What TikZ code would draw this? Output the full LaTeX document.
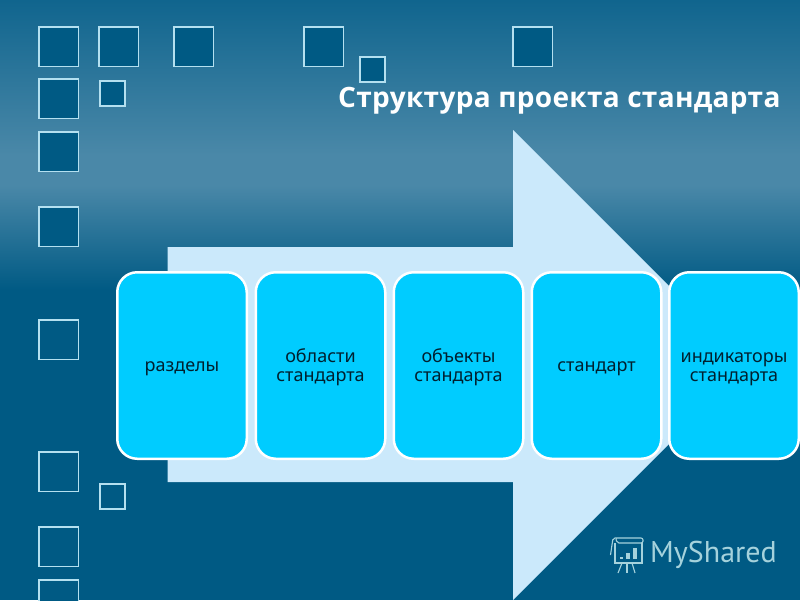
\documentclass[tikz,border=0pt]{standalone}
\usepackage{fontspec}
\setmainfont{Noto Sans}
\newfontfamily\titlefont[LetterSpace=1.1]{Open Sans}
\newfontfamily\logofont{PT Sans}
\definecolor{bgtop}{HTML}{10658E}
\definecolor{bgmid}{HTML}{4A88A8}
\definecolor{bgdark}{HTML}{005A84}
\definecolor{squareline}{HTML}{B4E0F0}
\definecolor{arrowfill}{HTML}{CBE9FB}
\definecolor{boxfill}{HTML}{00CCFF}
\definecolor{boxtext}{HTML}{00202F}
\definecolor{logocolor}{HTML}{A5D2DC}
\newcommand{\lineup}{\rule{0pt}{16.5pt}}
\tikzset{
    box/.style={draw=white, line width=2.5pt, fill=boxfill, rounded corners=20pt, minimum width=129.5pt, minimum height=186.5pt, align=center, text=boxtext, font=\fontsize{18}{19}\selectfont},
    onebox/.style={box, text height=11pt, text depth=0pt},
    tile/.style={draw=squareline, line width=1.3pt, fill=bgdark},
    logoline/.style={draw=logocolor, line width=1.1pt}
}
\begin{document}
\begin{tikzpicture}[x=1pt, y=-1pt]
    \useasboundingbox (0, 0) rectangle (800, 600);
    \shade[top color=bgtop, bottom color=bgmid] (0, 0) rectangle (800, 155);
    \fill[bgmid] (0, 155) rectangle (800, 185);
    \shade[top color=bgmid, bottom color=bgdark] (0, 185) rectangle (800, 290);
    \fill[bgdark] (0, 290) rectangle (800, 600);

    \foreach \x/\y in {39/27, 99/27, 174/27, 304/27, 513/27, 39/79, 39/132, 39/207, 39/320, 39/452, 39/527, 39/580}
        \draw[tile] (\x, \y) rectangle ++(39.5, 39.5);
    \foreach \x/\y in {100/81, 360/57, 100/484}
        \draw[tile] (\x, \y) rectangle ++(25, 25);

    \node[anchor=east, text=white, font=\titlefont\bfseries\fontsize{28}{30}\selectfont] (title) at (784, 101) {Структура проекта стандарта};

    \fill[arrowfill] (167.5, 247) -- (513, 247) -- (513, 130) -- (748, 365) -- (513, 600) -- (513, 482) -- (167.5, 482) -- cycle;

    \node[onebox] (sections) at (182, 365.5) {разделы};
    \node[box] (areas) at (320.5, 365.5) {\lineup области\\стандарта};
    \node[box] (objects) at (458.5, 365.5) {\lineup объекты\\стандарта};
    \node[onebox] (standard) at (596.5, 365.5) {стандарт};
    \node[box] (indicators) at (734, 365.5) {\lineup индикаторы\\стандарта};

    % logo
    \draw[logoline] (615, 543) -- (615, 563) -- (642, 563) -- (642, 543);
    \draw[logoline, rounded corners=2pt] (610.5, 555) -- (613, 538) -- (643, 538) -- (643, 543) -- (617, 543) -- (616, 539);
    \foreach \x/\y in {619.5/557, 626/553, 633/548}
        \fill[logocolor] (\x, \y) rectangle (\x + 3.5, 559);
    \draw[logoline] (622, 563) -- (618, 573);
    \draw[logoline] (627, 563) -- (627, 573);
    \draw[logoline] (632, 563) -- (635, 573);
    \node[anchor=west, inner sep=0pt, text=logocolor, font=\logofont\fontsize{30}{32}\selectfont] (logo) at (650, 555) {MyShared};
\end{tikzpicture}
\end{document}
